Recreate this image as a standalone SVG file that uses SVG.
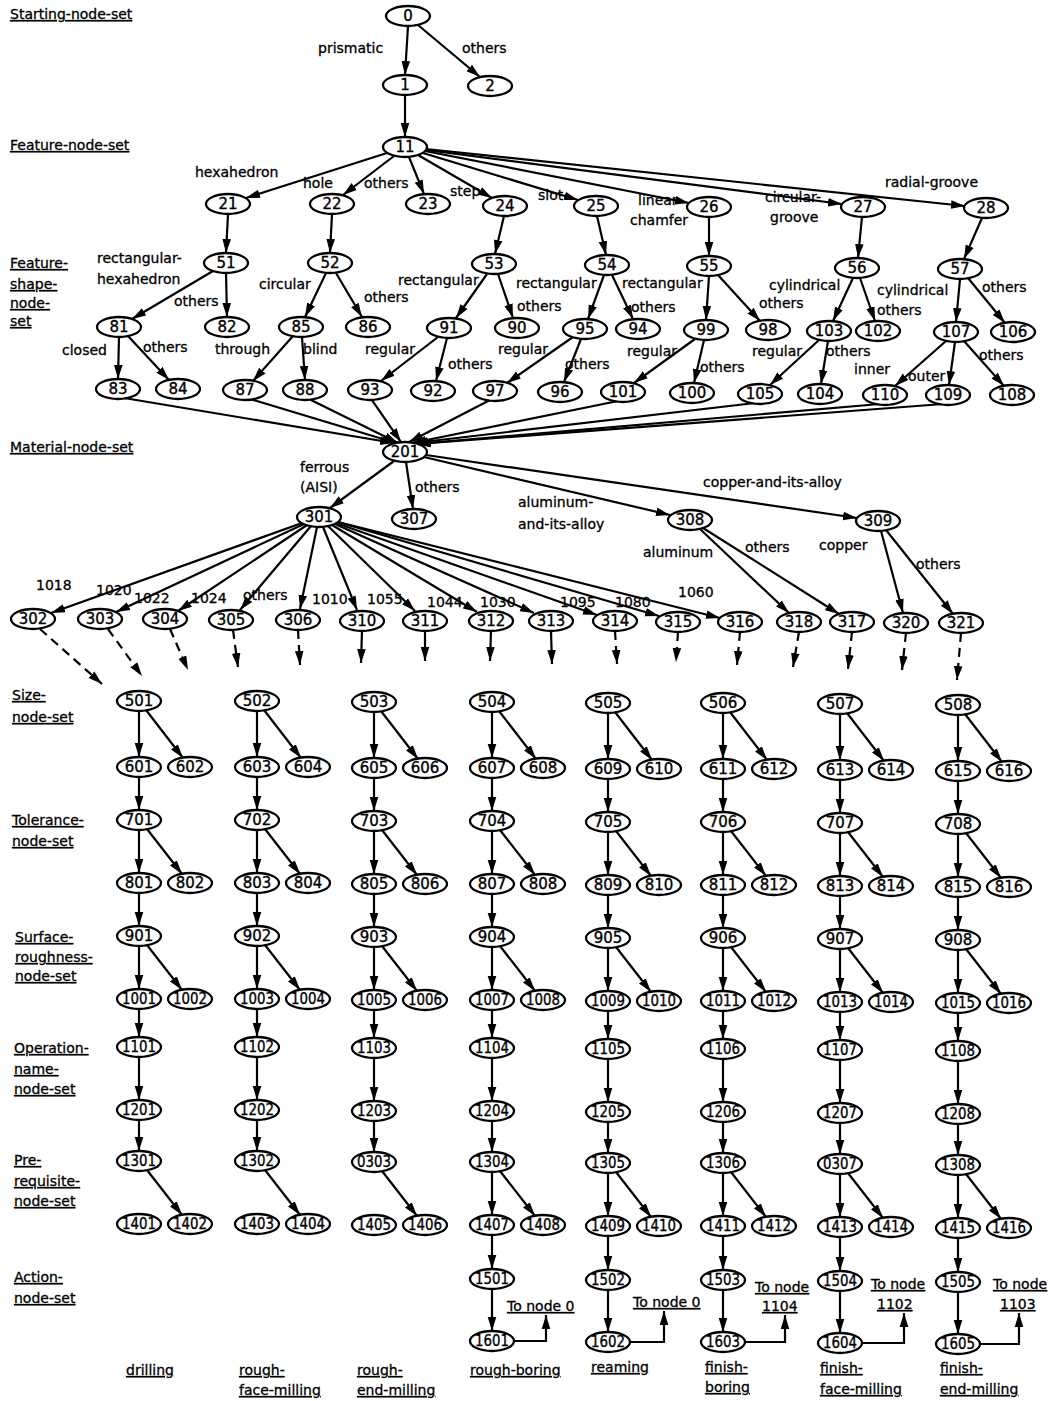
<svg xmlns="http://www.w3.org/2000/svg" width="1063" height="1401" viewBox="0 0 1063 1401">
<defs>
<marker id="ah" markerWidth="15" markerHeight="10" refX="14" refY="5" orient="auto" markerUnits="userSpaceOnUse">
<path d="M0,0.7 L14,5 L0,9.3 Z" fill="#000"/>
</marker>
<style>
.nd ellipse{fill:#fff;stroke:#000;stroke-width:2.3}
.nd text{font-family:"DejaVu Sans",sans-serif;font-size:15px;text-anchor:middle;dominant-baseline:central;fill:#000;stroke:#000;stroke-width:0.35px}
.e{stroke:#000;stroke-width:2.2;fill:none;marker-end:url(#ah)}
.d{stroke-dasharray:9 6}
.lb{font-family:"DejaVu Sans",sans-serif;font-size:14px;fill:#000;stroke:#000;stroke-width:0.3px}
.ul{text-decoration:underline}
</style>
</defs>
<rect width="1063" height="1401" fill="#fff"/>

<!-- level titles -->
<g id="titles" class="lb ul">
<text x="10" y="19">Starting-node-set</text>
<text x="10" y="150">Feature-node-set</text>
<text x="10" y="268">Feature-</text>
<text x="10" y="289">shape-</text>
<text x="10" y="308">node-</text>
<text x="10" y="326">set</text>
<text x="10" y="452">Material-node-set</text>
<text x="12" y="700">Size-</text>
<text x="12" y="722">node-set</text>
<text x="12" y="825">Tolerance-</text>
<text x="12" y="846">node-set</text>
<text x="15" y="942">Surface-</text>
<text x="15" y="962">roughness-</text>
<text x="15" y="981">node-set</text>
<text x="14" y="1053">Operation-</text>
<text x="14" y="1074">name-</text>
<text x="14" y="1094">node-set</text>
<text x="14" y="1165">Pre-</text>
<text x="14" y="1186">requisite-</text>
<text x="14" y="1206">node-set</text>
<text x="14" y="1282">Action-</text>
<text x="14" y="1303">node-set</text>
</g>

<!-- operation names under each column -->
<g id="operations" class="lb ul">
<text x="126" y="1375">drilling</text>
<text x="239" y="1375">rough-</text>
<text x="239" y="1395">face-milling</text>
<text x="357" y="1375">rough-</text>
<text x="357" y="1395">end-milling</text>
<text x="470" y="1375">rough-boring</text>
<text x="591" y="1372">reaming</text>
<text x="705" y="1372">finish-</text>
<text x="705" y="1392">boring</text>
<text x="820" y="1373">finish-</text>
<text x="820" y="1394">face-milling</text>
<text x="940" y="1373">finish-</text>
<text x="940" y="1394">end-milling</text>
</g>

<!-- return targets -->
<g id="returns" class="lb ul">
<text x="507" y="1311">To node 0</text>
<text x="633" y="1307">To node 0</text>
<text x="755" y="1292">To node</text>
<text x="762" y="1311">1104</text>
<text x="871" y="1289">To node</text>
<text x="877" y="1309">1102</text>
<text x="993" y="1289">To node</text>
<text x="1000" y="1309">1103</text>
</g>

<!-- edge labels -->
<g id="edge-labels" class="lb">
<text x="318" y="53">prismatic</text>
<text x="462" y="53">others</text>
<text x="195" y="177">hexahedron</text>
<text x="303" y="188">hole</text>
<text x="364" y="188">others</text>
<text x="450" y="196">step</text>
<text x="538" y="200">slot</text>
<text x="638" y="205">linear-</text>
<text x="630" y="225">chamfer</text>
<text x="765" y="202">circular-</text>
<text x="770" y="222">groove</text>
<text x="885" y="187">radial-groove</text>
<text x="97" y="263">rectangular-</text>
<text x="97" y="284">hexahedron</text>
<text x="174" y="306">others</text>
<text x="259" y="289">circular</text>
<text x="364" y="302">others</text>
<text x="398" y="285">rectangular</text>
<text x="517" y="311">others</text>
<text x="516" y="288">rectangular</text>
<text x="622" y="288">rectangular</text>
<text x="631" y="312">others</text>
<text x="769" y="290">cylindrical</text>
<text x="759" y="308">others</text>
<text x="877" y="295">cylindrical</text>
<text x="877" y="315">others</text>
<text x="982" y="292">others</text>
<text x="62" y="355">closed</text>
<text x="143" y="352">others</text>
<text x="215" y="354">through</text>
<text x="303" y="354">blind</text>
<text x="365" y="354">regular</text>
<text x="448" y="369">others</text>
<text x="498" y="354">regular</text>
<text x="565" y="369">others</text>
<text x="627" y="356">regular</text>
<text x="700" y="372">others</text>
<text x="752" y="356">regular</text>
<text x="826" y="356">others</text>
<text x="854" y="374">inner</text>
<text x="908" y="381">outer</text>
<text x="979" y="360">others</text>
<text x="300" y="472">ferrous</text>
<text x="300" y="492">(AISI)</text>
<text x="415" y="492">others</text>
<text x="518" y="507">aluminum-</text>
<text x="518" y="529">and-its-alloy</text>
<text x="703" y="487">copper-and-its-alloy</text>
<text x="643" y="557">aluminum</text>
<text x="745" y="552">others</text>
<text x="819" y="550">copper</text>
<text x="916" y="569">others</text>
<text x="36" y="590">1018</text>
<text x="96" y="595">1020</text>
<text x="134" y="603">1022</text>
<text x="191" y="603">1024</text>
<text x="243" y="600">others</text>
<text x="312" y="604">1010</text>
<text x="367" y="604">1055</text>
<text x="427" y="607">1044</text>
<text x="480" y="607">1030</text>
<text x="560" y="607">1095</text>
<text x="615" y="607">1080</text>
<text x="678" y="597">1060</text>
</g>

<!-- connectors -->
<g id="connectors">
<line class="e" x1="408" y1="26" x2="405" y2="75"/>
<line class="e" x1="418" y1="25" x2="480" y2="77"/>
<line class="e" x1="405" y1="95" x2="405" y2="137"/>
<line class="e" x1="387" y1="153" x2="246" y2="198"/>
<line class="e" x1="394" y1="156" x2="343" y2="195"/>
<line class="e" x1="409" y1="157" x2="424" y2="194"/>
<line class="e" x1="418" y1="155" x2="492" y2="198"/>
<line class="e" x1="423" y1="153" x2="578" y2="200"/>
<line class="e" x1="425" y1="151" x2="689" y2="203"/>
<line class="e" x1="426" y1="150" x2="842" y2="204"/>
<line class="e" x1="426" y1="149" x2="965" y2="206"/>
<line class="e" x1="228" y1="214" x2="226" y2="253"/>
<line class="e" x1="332" y1="214" x2="330" y2="253"/>
<line class="e" x1="504" y1="216" x2="495" y2="254"/>
<line class="e" x1="597" y1="216" x2="606" y2="255"/>
<line class="e" x1="709" y1="217" x2="709" y2="256"/>
<line class="e" x1="862" y1="217" x2="858" y2="258"/>
<line class="e" x1="982" y1="218" x2="964" y2="259"/>
<line class="e" x1="213" y1="271" x2="132" y2="319"/>
<line class="e" x1="226" y1="273" x2="227" y2="317"/>
<line class="e" x1="326" y1="273" x2="305" y2="317"/>
<line class="e" x1="336" y1="273" x2="362" y2="317"/>
<line class="e" x1="487" y1="274" x2="456" y2="318"/>
<line class="e" x1="498" y1="274" x2="513" y2="318"/>
<line class="e" x1="604" y1="275" x2="588" y2="319"/>
<line class="e" x1="612" y1="275" x2="633" y2="319"/>
<line class="e" x1="709" y1="276" x2="706" y2="320"/>
<line class="e" x1="718" y1="275" x2="760" y2="321"/>
<line class="e" x1="853" y1="278" x2="833" y2="321"/>
<line class="e" x1="860" y1="278" x2="875" y2="321"/>
<line class="e" x1="960" y1="279" x2="956" y2="322"/>
<line class="e" x1="968" y1="278" x2="1005" y2="323"/>
<line class="e" x1="119" y1="337" x2="118" y2="379"/>
<line class="e" x1="128" y1="336" x2="169" y2="380"/>
<line class="e" x1="293" y1="336" x2="253" y2="381"/>
<line class="e" x1="302" y1="337" x2="305" y2="380"/>
<line class="e" x1="438" y1="337" x2="381" y2="381"/>
<line class="e" x1="447" y1="338" x2="436" y2="381"/>
<line class="e" x1="573" y1="337" x2="507" y2="383"/>
<line class="e" x1="581" y1="339" x2="564" y2="382"/>
<line class="e" x1="695" y1="339" x2="634" y2="383"/>
<line class="e" x1="704" y1="340" x2="694" y2="383"/>
<line class="e" x1="819" y1="340" x2="770" y2="385"/>
<line class="e" x1="828" y1="341" x2="821" y2="384"/>
<line class="e" x1="946" y1="341" x2="895" y2="386"/>
<line class="e" x1="955" y1="342" x2="949" y2="385"/>
<line class="e" x1="964" y1="341" x2="1004" y2="386"/>
<!-- shape leaves into the material root -->
<line class="e" x1="124" y1="398" x2="394" y2="443"/>
<line class="e" x1="250" y1="399" x2="396" y2="443"/>
<line class="e" x1="309" y1="399" x2="398" y2="443"/>
<line class="e" x1="372" y1="400" x2="401" y2="442"/>
<line class="e" x1="490" y1="400" x2="409" y2="442"/>
<line class="e" x1="618" y1="401" x2="412" y2="443"/>
<line class="e" x1="755" y1="403" x2="414" y2="443"/>
<line class="e" x1="880" y1="404" x2="416" y2="444"/>
<line class="e" x1="943" y1="404" x2="417" y2="444"/>
<!-- material -->
<line class="e" x1="394" y1="461" x2="330" y2="508"/>
<line class="e" x1="406" y1="462" x2="413" y2="509"/>
<line class="e" x1="424" y1="457" x2="670" y2="515"/>
<line class="e" x1="426" y1="455" x2="857" y2="518"/>
<line class="e" x1="302" y1="523" x2="51" y2="613"/>
<line class="e" x1="304" y1="524" x2="116" y2="612"/>
<line class="e" x1="307" y1="525" x2="178" y2="611"/>
<line class="e" x1="311" y1="526" x2="240" y2="610"/>
<line class="e" x1="317" y1="527" x2="300" y2="609"/>
<line class="e" x1="323" y1="527" x2="357" y2="610"/>
<line class="e" x1="328" y1="526" x2="415" y2="611"/>
<line class="e" x1="332" y1="525" x2="477" y2="612"/>
<line class="e" x1="335" y1="524" x2="534" y2="613"/>
<line class="e" x1="336" y1="523" x2="597" y2="615"/>
<line class="e" x1="338" y1="522" x2="659" y2="616"/>
<line class="e" x1="338" y1="522" x2="720" y2="618"/>
<line class="e" x1="700" y1="529" x2="789" y2="613"/>
<line class="e" x1="703" y1="528" x2="839" y2="614"/>
<line class="e" x1="881" y1="531" x2="903" y2="613"/>
<line class="e" x1="886" y1="530" x2="953" y2="614"/>
<!-- continuation stubs -->
<line class="e d" x1="40" y1="629" x2="102" y2="684"/>
<line class="e d" x1="108" y1="629" x2="142" y2="676"/>
<line class="e d" x1="170" y1="629" x2="188" y2="670"/>
<line class="e d" x1="233" y1="630" x2="238" y2="667"/>
<line class="e d" x1="298" y1="630" x2="300" y2="665"/>
<line class="e" x1="362" y1="631" x2="361" y2="663"/>
<line class="e" x1="425" y1="631" x2="425" y2="661"/>
<line class="e" x1="491" y1="631" x2="490" y2="661"/>
<line class="e" x1="551" y1="631" x2="552" y2="664"/>
<line class="e d" x1="615" y1="631" x2="617" y2="664"/>
<line class="e d" x1="678" y1="632" x2="676" y2="662"/>
<line class="e d" x1="740" y1="632" x2="737" y2="665"/>
<line class="e d" x1="799" y1="632" x2="793" y2="667"/>
<line class="e d" x1="852" y1="632" x2="848" y2="669"/>
<line class="e d" x1="906" y1="633" x2="902" y2="670"/>
<line class="e d" x1="961" y1="633" x2="957" y2="680"/>
<!-- column 1 -->
<line class="e" x1="139" y1="711" x2="139" y2="757"/>
<line class="e" x1="146" y1="710" x2="183" y2="758"/>
<line class="e" x1="139" y1="777" x2="139" y2="810"/>
<line class="e" x1="139" y1="830" x2="139" y2="873"/>
<line class="e" x1="147" y1="829" x2="182" y2="874"/>
<line class="e" x1="139" y1="893" x2="139" y2="926"/>
<line class="e" x1="139" y1="946" x2="139" y2="989"/>
<line class="e" x1="147" y1="945" x2="182" y2="990"/>
<line class="e" x1="139" y1="1009" x2="139" y2="1037"/>
<line class="e" x1="139" y1="1057" x2="139" y2="1100"/>
<line class="e" x1="139" y1="1120" x2="139" y2="1151"/>
<line class="e" x1="147" y1="1170" x2="182" y2="1215"/>
<!-- column 2 -->
<line class="e" x1="257" y1="711" x2="257" y2="757"/>
<line class="e" x1="264" y1="710" x2="301" y2="758"/>
<line class="e" x1="257" y1="777" x2="257" y2="810"/>
<line class="e" x1="257" y1="830" x2="257" y2="873"/>
<line class="e" x1="265" y1="829" x2="300" y2="874"/>
<line class="e" x1="257" y1="893" x2="257" y2="926"/>
<line class="e" x1="257" y1="946" x2="257" y2="989"/>
<line class="e" x1="265" y1="945" x2="300" y2="990"/>
<line class="e" x1="257" y1="1009" x2="257" y2="1037"/>
<line class="e" x1="257" y1="1057" x2="257" y2="1100"/>
<line class="e" x1="257" y1="1120" x2="257" y2="1151"/>
<line class="e" x1="265" y1="1170" x2="300" y2="1215"/>
<!-- column 3 -->
<line class="e" x1="374" y1="712" x2="374" y2="758"/>
<line class="e" x1="381" y1="711" x2="418" y2="759"/>
<line class="e" x1="374" y1="778" x2="374" y2="811"/>
<line class="e" x1="374" y1="831" x2="374" y2="874"/>
<line class="e" x1="382" y1="830" x2="417" y2="875"/>
<line class="e" x1="374" y1="894" x2="374" y2="927"/>
<line class="e" x1="374" y1="947" x2="374" y2="990"/>
<line class="e" x1="382" y1="946" x2="417" y2="991"/>
<line class="e" x1="374" y1="1010" x2="374" y2="1038"/>
<line class="e" x1="374" y1="1058" x2="374" y2="1101"/>
<line class="e" x1="374" y1="1121" x2="374" y2="1152"/>
<line class="e" x1="382" y1="1171" x2="417" y2="1216"/>
<!-- column 4 -->
<line class="e" x1="492" y1="712" x2="492" y2="758"/>
<line class="e" x1="499" y1="711" x2="536" y2="759"/>
<line class="e" x1="492" y1="778" x2="492" y2="811"/>
<line class="e" x1="492" y1="831" x2="492" y2="874"/>
<line class="e" x1="500" y1="830" x2="535" y2="875"/>
<line class="e" x1="492" y1="894" x2="492" y2="927"/>
<line class="e" x1="492" y1="947" x2="492" y2="990"/>
<line class="e" x1="500" y1="946" x2="535" y2="991"/>
<line class="e" x1="492" y1="1010" x2="492" y2="1038"/>
<line class="e" x1="492" y1="1058" x2="492" y2="1101"/>
<line class="e" x1="492" y1="1121" x2="492" y2="1152"/>
<line class="e" x1="492" y1="1172" x2="492" y2="1215"/>
<line class="e" x1="500" y1="1171" x2="535" y2="1216"/>
<line class="e" x1="492" y1="1235" x2="492" y2="1269"/>
<line class="e" x1="492" y1="1289" x2="492" y2="1331"/>
<path class="e" d="M514,1341H546V1315"/>
<!-- column 5 -->
<line class="e" x1="608" y1="713" x2="608" y2="759"/>
<line class="e" x1="615" y1="712" x2="652" y2="760"/>
<line class="e" x1="608" y1="779" x2="608" y2="812"/>
<line class="e" x1="608" y1="832" x2="608" y2="875"/>
<line class="e" x1="616" y1="831" x2="651" y2="876"/>
<line class="e" x1="608" y1="895" x2="608" y2="928"/>
<line class="e" x1="608" y1="948" x2="608" y2="991"/>
<line class="e" x1="616" y1="947" x2="651" y2="992"/>
<line class="e" x1="608" y1="1011" x2="608" y2="1039"/>
<line class="e" x1="608" y1="1059" x2="608" y2="1102"/>
<line class="e" x1="608" y1="1122" x2="608" y2="1153"/>
<line class="e" x1="608" y1="1173" x2="608" y2="1216"/>
<line class="e" x1="616" y1="1172" x2="651" y2="1217"/>
<line class="e" x1="608" y1="1236" x2="608" y2="1270"/>
<line class="e" x1="608" y1="1290" x2="608" y2="1332"/>
<path class="e" d="M630,1342H664V1311"/>
<!-- column 6 -->
<line class="e" x1="723" y1="713" x2="723" y2="759"/>
<line class="e" x1="730" y1="712" x2="767" y2="760"/>
<line class="e" x1="723" y1="779" x2="723" y2="812"/>
<line class="e" x1="723" y1="832" x2="723" y2="875"/>
<line class="e" x1="731" y1="831" x2="766" y2="876"/>
<line class="e" x1="723" y1="895" x2="723" y2="928"/>
<line class="e" x1="723" y1="948" x2="723" y2="991"/>
<line class="e" x1="731" y1="947" x2="766" y2="992"/>
<line class="e" x1="723" y1="1011" x2="723" y2="1039"/>
<line class="e" x1="723" y1="1059" x2="723" y2="1102"/>
<line class="e" x1="723" y1="1122" x2="723" y2="1153"/>
<line class="e" x1="723" y1="1173" x2="723" y2="1216"/>
<line class="e" x1="731" y1="1172" x2="766" y2="1217"/>
<line class="e" x1="723" y1="1236" x2="723" y2="1270"/>
<line class="e" x1="723" y1="1290" x2="723" y2="1332"/>
<path class="e" d="M745,1342H785V1315"/>
<!-- column 7 -->
<line class="e" x1="840" y1="714" x2="840" y2="760"/>
<line class="e" x1="847" y1="713" x2="884" y2="761"/>
<line class="e" x1="840" y1="780" x2="840" y2="813"/>
<line class="e" x1="840" y1="833" x2="840" y2="876"/>
<line class="e" x1="848" y1="832" x2="883" y2="877"/>
<line class="e" x1="840" y1="896" x2="840" y2="929"/>
<line class="e" x1="840" y1="949" x2="840" y2="992"/>
<line class="e" x1="848" y1="948" x2="883" y2="993"/>
<line class="e" x1="840" y1="1012" x2="840" y2="1040"/>
<line class="e" x1="840" y1="1060" x2="840" y2="1103"/>
<line class="e" x1="840" y1="1123" x2="840" y2="1154"/>
<line class="e" x1="840" y1="1174" x2="840" y2="1217"/>
<line class="e" x1="848" y1="1173" x2="883" y2="1218"/>
<line class="e" x1="840" y1="1237" x2="840" y2="1271"/>
<line class="e" x1="840" y1="1291" x2="840" y2="1333"/>
<path class="e" d="M862,1343H904V1313"/>
<!-- column 8 -->
<line class="e" x1="958" y1="715" x2="958" y2="761"/>
<line class="e" x1="965" y1="714" x2="1002" y2="762"/>
<line class="e" x1="958" y1="781" x2="958" y2="814"/>
<line class="e" x1="958" y1="834" x2="958" y2="877"/>
<line class="e" x1="966" y1="833" x2="1001" y2="878"/>
<line class="e" x1="958" y1="897" x2="958" y2="930"/>
<line class="e" x1="958" y1="950" x2="958" y2="993"/>
<line class="e" x1="966" y1="949" x2="1001" y2="994"/>
<line class="e" x1="958" y1="1013" x2="958" y2="1041"/>
<line class="e" x1="958" y1="1061" x2="958" y2="1104"/>
<line class="e" x1="958" y1="1124" x2="958" y2="1155"/>
<line class="e" x1="958" y1="1175" x2="958" y2="1218"/>
<line class="e" x1="966" y1="1174" x2="1001" y2="1219"/>
<line class="e" x1="958" y1="1238" x2="958" y2="1272"/>
<line class="e" x1="958" y1="1292" x2="958" y2="1334"/>
<path class="e" d="M980,1344H1019V1313"/>
</g>

<!-- nodes -->
<g id="n0" class="nd"><ellipse cx="408" cy="16" rx="22" ry="10"/><text x="408" y="16">0</text></g>
<g id="n1" class="nd"><ellipse cx="405" cy="85" rx="22" ry="10"/><text x="405" y="85">1</text></g>
<g id="n2" class="nd"><ellipse cx="490" cy="86" rx="22" ry="10"/><text x="490" y="86">2</text></g>
<g id="n11" class="nd"><ellipse cx="405" cy="147" rx="22" ry="10"/><text x="405" y="147">11</text></g>
<g id="n21" class="nd"><ellipse cx="228" cy="204" rx="22" ry="10"/><text x="228" y="204">21</text></g>
<g id="n22" class="nd"><ellipse cx="332" cy="204" rx="22" ry="10"/><text x="332" y="204">22</text></g>
<g id="n23" class="nd"><ellipse cx="428" cy="204" rx="22" ry="10"/><text x="428" y="204">23</text></g>
<g id="n24" class="nd"><ellipse cx="505" cy="206" rx="22" ry="10"/><text x="505" y="206">24</text></g>
<g id="n25" class="nd"><ellipse cx="596" cy="206" rx="22" ry="10"/><text x="596" y="206">25</text></g>
<g id="n26" class="nd"><ellipse cx="709" cy="207" rx="22" ry="10"/><text x="709" y="207">26</text></g>
<g id="n27" class="nd"><ellipse cx="863" cy="207" rx="22" ry="10"/><text x="863" y="207">27</text></g>
<g id="n28" class="nd"><ellipse cx="986" cy="208" rx="22" ry="10"/><text x="986" y="208">28</text></g>
<g id="n51" class="nd"><ellipse cx="226" cy="263" rx="22" ry="10"/><text x="226" y="263">51</text></g>
<g id="n52" class="nd"><ellipse cx="330" cy="263" rx="22" ry="10"/><text x="330" y="263">52</text></g>
<g id="n53" class="nd"><ellipse cx="494" cy="264" rx="22" ry="10"/><text x="494" y="264">53</text></g>
<g id="n54" class="nd"><ellipse cx="607" cy="265" rx="22" ry="10"/><text x="607" y="265">54</text></g>
<g id="n55" class="nd"><ellipse cx="709" cy="266" rx="22" ry="10"/><text x="709" y="266">55</text></g>
<g id="n56" class="nd"><ellipse cx="857" cy="268" rx="22" ry="10"/><text x="857" y="268">56</text></g>
<g id="n57" class="nd"><ellipse cx="960" cy="269" rx="22" ry="10"/><text x="960" y="269">57</text></g>
<g id="n81" class="nd"><ellipse cx="119" cy="327" rx="22" ry="10"/><text x="119" y="327">81</text></g>
<g id="n82" class="nd"><ellipse cx="227" cy="327" rx="22" ry="10"/><text x="227" y="327">82</text></g>
<g id="n85" class="nd"><ellipse cx="301" cy="327" rx="22" ry="10"/><text x="301" y="327">85</text></g>
<g id="n86" class="nd"><ellipse cx="368" cy="327" rx="22" ry="10"/><text x="368" y="327">86</text></g>
<g id="n91" class="nd"><ellipse cx="449" cy="328" rx="22" ry="10"/><text x="449" y="328">91</text></g>
<g id="n90" class="nd"><ellipse cx="517" cy="328" rx="22" ry="10"/><text x="517" y="328">90</text></g>
<g id="n95" class="nd"><ellipse cx="585" cy="329" rx="22" ry="10"/><text x="585" y="329">95</text></g>
<g id="n94" class="nd"><ellipse cx="638" cy="329" rx="22" ry="10"/><text x="638" y="329">94</text></g>
<g id="n99" class="nd"><ellipse cx="706" cy="330" rx="22" ry="10"/><text x="706" y="330">99</text></g>
<g id="n98" class="nd"><ellipse cx="768" cy="330" rx="22" ry="10"/><text x="768" y="330">98</text></g>
<g id="n103" class="nd"><ellipse cx="829" cy="331" rx="22" ry="10"/><text x="829" y="331">103</text></g>
<g id="n102" class="nd"><ellipse cx="878" cy="331" rx="22" ry="10"/><text x="878" y="331">102</text></g>
<g id="n107" class="nd"><ellipse cx="956" cy="332" rx="22" ry="10"/><text x="956" y="332">107</text></g>
<g id="n106" class="nd"><ellipse cx="1013" cy="332" rx="22" ry="10"/><text x="1013" y="332">106</text></g>
<g id="n83" class="nd"><ellipse cx="118" cy="389" rx="22" ry="10"/><text x="118" y="389">83</text></g>
<g id="n84" class="nd"><ellipse cx="178" cy="389" rx="22" ry="10"/><text x="178" y="389">84</text></g>
<g id="n87" class="nd"><ellipse cx="245" cy="390" rx="22" ry="10"/><text x="245" y="390">87</text></g>
<g id="n88" class="nd"><ellipse cx="305" cy="390" rx="22" ry="10"/><text x="305" y="390">88</text></g>
<g id="n93" class="nd"><ellipse cx="370" cy="390" rx="22" ry="10"/><text x="370" y="390">93</text></g>
<g id="n92" class="nd"><ellipse cx="433" cy="391" rx="22" ry="10"/><text x="433" y="391">92</text></g>
<g id="n97" class="nd"><ellipse cx="495" cy="391" rx="22" ry="10"/><text x="495" y="391">97</text></g>
<g id="n96" class="nd"><ellipse cx="560" cy="392" rx="22" ry="10"/><text x="560" y="392">96</text></g>
<g id="n101" class="nd"><ellipse cx="623" cy="392" rx="22" ry="10"/><text x="623" y="392">101</text></g>
<g id="n100" class="nd"><ellipse cx="692" cy="393" rx="22" ry="10"/><text x="692" y="393">100</text></g>
<g id="n105" class="nd"><ellipse cx="760" cy="394" rx="22" ry="10"/><text x="760" y="394">105</text></g>
<g id="n104" class="nd"><ellipse cx="820" cy="394" rx="22" ry="10"/><text x="820" y="394">104</text></g>
<g id="n110" class="nd"><ellipse cx="885" cy="395" rx="22" ry="10"/><text x="885" y="395">110</text></g>
<g id="n109" class="nd"><ellipse cx="948" cy="395" rx="22" ry="10"/><text x="948" y="395">109</text></g>
<g id="n108" class="nd"><ellipse cx="1012" cy="395" rx="22" ry="10"/><text x="1012" y="395">108</text></g>
<g id="n201" class="nd"><ellipse cx="405" cy="452" rx="22" ry="10"/><text x="405" y="452">201</text></g>
<g id="n301" class="nd"><ellipse cx="319" cy="517" rx="22" ry="10"/><text x="319" y="517">301</text></g>
<g id="n307" class="nd"><ellipse cx="414" cy="519" rx="22" ry="10"/><text x="414" y="519">307</text></g>
<g id="n308" class="nd"><ellipse cx="690" cy="520" rx="22" ry="10"/><text x="690" y="520">308</text></g>
<g id="n309" class="nd"><ellipse cx="878" cy="521" rx="22" ry="10"/><text x="878" y="521">309</text></g>
<g id="n302" class="nd"><ellipse cx="33" cy="619" rx="22" ry="10"/><text x="33" y="619">302</text></g>
<g id="n303" class="nd"><ellipse cx="100" cy="619" rx="22" ry="10"/><text x="100" y="619">303</text></g>
<g id="n304" class="nd"><ellipse cx="165" cy="619" rx="22" ry="10"/><text x="165" y="619">304</text></g>
<g id="n305" class="nd"><ellipse cx="231" cy="620" rx="22" ry="10"/><text x="231" y="620">305</text></g>
<g id="n306" class="nd"><ellipse cx="298" cy="620" rx="22" ry="10"/><text x="298" y="620">306</text></g>
<g id="n310" class="nd"><ellipse cx="362" cy="621" rx="22" ry="10"/><text x="362" y="621">310</text></g>
<g id="n311" class="nd"><ellipse cx="425" cy="621" rx="22" ry="10"/><text x="425" y="621">311</text></g>
<g id="n312" class="nd"><ellipse cx="491" cy="621" rx="22" ry="10"/><text x="491" y="621">312</text></g>
<g id="n313" class="nd"><ellipse cx="551" cy="621" rx="22" ry="10"/><text x="551" y="621">313</text></g>
<g id="n314" class="nd"><ellipse cx="615" cy="621" rx="22" ry="10"/><text x="615" y="621">314</text></g>
<g id="n315" class="nd"><ellipse cx="678" cy="622" rx="22" ry="10"/><text x="678" y="622">315</text></g>
<g id="n316" class="nd"><ellipse cx="740" cy="622" rx="22" ry="10"/><text x="740" y="622">316</text></g>
<g id="n318" class="nd"><ellipse cx="799" cy="622" rx="22" ry="10"/><text x="799" y="622">318</text></g>
<g id="n317" class="nd"><ellipse cx="852" cy="622" rx="22" ry="10"/><text x="852" y="622">317</text></g>
<g id="n320" class="nd"><ellipse cx="906" cy="623" rx="22" ry="10"/><text x="906" y="623">320</text></g>
<g id="n321" class="nd"><ellipse cx="961" cy="623" rx="22" ry="10"/><text x="961" y="623">321</text></g>

<!-- column 1: drilling -->
<g id="n501" class="nd"><ellipse cx="139" cy="701" rx="22" ry="10"/><text x="139" y="701">501</text></g>
<g id="n601" class="nd"><ellipse cx="139" cy="767" rx="22" ry="10"/><text x="139" y="767">601</text></g>
<g id="n602" class="nd"><ellipse cx="190" cy="767" rx="22" ry="10"/><text x="190" y="767">602</text></g>
<g id="n701" class="nd"><ellipse cx="139" cy="820" rx="22" ry="10"/><text x="139" y="820">701</text></g>
<g id="n801" class="nd"><ellipse cx="139" cy="883" rx="22" ry="10"/><text x="139" y="883">801</text></g>
<g id="n802" class="nd"><ellipse cx="190" cy="883" rx="22" ry="10"/><text x="190" y="883">802</text></g>
<g id="n901" class="nd"><ellipse cx="139" cy="936" rx="22" ry="10"/><text x="139" y="936">901</text></g>
<g id="n1001" class="nd"><ellipse cx="139" cy="999" rx="22" ry="10"/><text x="139" y="999" textLength="34" lengthAdjust="spacingAndGlyphs">1001</text></g>
<g id="n1002" class="nd"><ellipse cx="190" cy="999" rx="22" ry="10"/><text x="190" y="999" textLength="34" lengthAdjust="spacingAndGlyphs">1002</text></g>
<g id="n1101" class="nd"><ellipse cx="139" cy="1047" rx="22" ry="10"/><text x="139" y="1047" textLength="34" lengthAdjust="spacingAndGlyphs">1101</text></g>
<g id="n1201" class="nd"><ellipse cx="139" cy="1110" rx="22" ry="10"/><text x="139" y="1110" textLength="34" lengthAdjust="spacingAndGlyphs">1201</text></g>
<g id="n1301" class="nd"><ellipse cx="139" cy="1161" rx="22" ry="10"/><text x="139" y="1161" textLength="34" lengthAdjust="spacingAndGlyphs">1301</text></g>
<g id="n1401" class="nd"><ellipse cx="139" cy="1224" rx="22" ry="10"/><text x="139" y="1224" textLength="34" lengthAdjust="spacingAndGlyphs">1401</text></g>
<g id="n1402" class="nd"><ellipse cx="190" cy="1224" rx="22" ry="10"/><text x="190" y="1224" textLength="34" lengthAdjust="spacingAndGlyphs">1402</text></g>

<!-- column 2: rough face milling -->
<g id="n502" class="nd"><ellipse cx="257" cy="701" rx="22" ry="10"/><text x="257" y="701">502</text></g>
<g id="n603" class="nd"><ellipse cx="257" cy="767" rx="22" ry="10"/><text x="257" y="767">603</text></g>
<g id="n604" class="nd"><ellipse cx="308" cy="767" rx="22" ry="10"/><text x="308" y="767">604</text></g>
<g id="n702" class="nd"><ellipse cx="257" cy="820" rx="22" ry="10"/><text x="257" y="820">702</text></g>
<g id="n803" class="nd"><ellipse cx="257" cy="883" rx="22" ry="10"/><text x="257" y="883">803</text></g>
<g id="n804" class="nd"><ellipse cx="308" cy="883" rx="22" ry="10"/><text x="308" y="883">804</text></g>
<g id="n902" class="nd"><ellipse cx="257" cy="936" rx="22" ry="10"/><text x="257" y="936">902</text></g>
<g id="n1003" class="nd"><ellipse cx="257" cy="999" rx="22" ry="10"/><text x="257" y="999" textLength="34" lengthAdjust="spacingAndGlyphs">1003</text></g>
<g id="n1004" class="nd"><ellipse cx="308" cy="999" rx="22" ry="10"/><text x="308" y="999" textLength="34" lengthAdjust="spacingAndGlyphs">1004</text></g>
<g id="n1102" class="nd"><ellipse cx="257" cy="1047" rx="22" ry="10"/><text x="257" y="1047" textLength="34" lengthAdjust="spacingAndGlyphs">1102</text></g>
<g id="n1202" class="nd"><ellipse cx="257" cy="1110" rx="22" ry="10"/><text x="257" y="1110" textLength="34" lengthAdjust="spacingAndGlyphs">1202</text></g>
<g id="n1302" class="nd"><ellipse cx="257" cy="1161" rx="22" ry="10"/><text x="257" y="1161" textLength="34" lengthAdjust="spacingAndGlyphs">1302</text></g>
<g id="n1403" class="nd"><ellipse cx="257" cy="1224" rx="22" ry="10"/><text x="257" y="1224" textLength="34" lengthAdjust="spacingAndGlyphs">1403</text></g>
<g id="n1404" class="nd"><ellipse cx="308" cy="1224" rx="22" ry="10"/><text x="308" y="1224" textLength="34" lengthAdjust="spacingAndGlyphs">1404</text></g>

<!-- column 3: rough end milling -->
<g id="n503" class="nd"><ellipse cx="374" cy="702" rx="22" ry="10"/><text x="374" y="702">503</text></g>
<g id="n605" class="nd"><ellipse cx="374" cy="768" rx="22" ry="10"/><text x="374" y="768">605</text></g>
<g id="n606" class="nd"><ellipse cx="425" cy="768" rx="22" ry="10"/><text x="425" y="768">606</text></g>
<g id="n703" class="nd"><ellipse cx="374" cy="821" rx="22" ry="10"/><text x="374" y="821">703</text></g>
<g id="n805" class="nd"><ellipse cx="374" cy="884" rx="22" ry="10"/><text x="374" y="884">805</text></g>
<g id="n806" class="nd"><ellipse cx="425" cy="884" rx="22" ry="10"/><text x="425" y="884">806</text></g>
<g id="n903" class="nd"><ellipse cx="374" cy="937" rx="22" ry="10"/><text x="374" y="937">903</text></g>
<g id="n1005" class="nd"><ellipse cx="374" cy="1000" rx="22" ry="10"/><text x="374" y="1000" textLength="34" lengthAdjust="spacingAndGlyphs">1005</text></g>
<g id="n1006" class="nd"><ellipse cx="425" cy="1000" rx="22" ry="10"/><text x="425" y="1000" textLength="34" lengthAdjust="spacingAndGlyphs">1006</text></g>
<g id="n1103" class="nd"><ellipse cx="374" cy="1048" rx="22" ry="10"/><text x="374" y="1048" textLength="34" lengthAdjust="spacingAndGlyphs">1103</text></g>
<g id="n1203" class="nd"><ellipse cx="374" cy="1111" rx="22" ry="10"/><text x="374" y="1111" textLength="34" lengthAdjust="spacingAndGlyphs">1203</text></g>
<g id="n1303" class="nd"><ellipse cx="374" cy="1162" rx="22" ry="10"/><text x="374" y="1162" textLength="34" lengthAdjust="spacingAndGlyphs">0303</text></g>
<g id="n1405" class="nd"><ellipse cx="374" cy="1225" rx="22" ry="10"/><text x="374" y="1225" textLength="34" lengthAdjust="spacingAndGlyphs">1405</text></g>
<g id="n1406" class="nd"><ellipse cx="425" cy="1225" rx="22" ry="10"/><text x="425" y="1225" textLength="34" lengthAdjust="spacingAndGlyphs">1406</text></g>

<!-- column 4: rough boring -->
<g id="n504" class="nd"><ellipse cx="492" cy="702" rx="22" ry="10"/><text x="492" y="702">504</text></g>
<g id="n607" class="nd"><ellipse cx="492" cy="768" rx="22" ry="10"/><text x="492" y="768">607</text></g>
<g id="n608" class="nd"><ellipse cx="543" cy="768" rx="22" ry="10"/><text x="543" y="768">608</text></g>
<g id="n704" class="nd"><ellipse cx="492" cy="821" rx="22" ry="10"/><text x="492" y="821">704</text></g>
<g id="n807" class="nd"><ellipse cx="492" cy="884" rx="22" ry="10"/><text x="492" y="884">807</text></g>
<g id="n808" class="nd"><ellipse cx="543" cy="884" rx="22" ry="10"/><text x="543" y="884">808</text></g>
<g id="n904" class="nd"><ellipse cx="492" cy="937" rx="22" ry="10"/><text x="492" y="937">904</text></g>
<g id="n1007" class="nd"><ellipse cx="492" cy="1000" rx="22" ry="10"/><text x="492" y="1000" textLength="34" lengthAdjust="spacingAndGlyphs">1007</text></g>
<g id="n1008" class="nd"><ellipse cx="543" cy="1000" rx="22" ry="10"/><text x="543" y="1000" textLength="34" lengthAdjust="spacingAndGlyphs">1008</text></g>
<g id="n1104" class="nd"><ellipse cx="492" cy="1048" rx="22" ry="10"/><text x="492" y="1048" textLength="34" lengthAdjust="spacingAndGlyphs">1104</text></g>
<g id="n1204" class="nd"><ellipse cx="492" cy="1111" rx="22" ry="10"/><text x="492" y="1111" textLength="34" lengthAdjust="spacingAndGlyphs">1204</text></g>
<g id="n1304" class="nd"><ellipse cx="492" cy="1162" rx="22" ry="10"/><text x="492" y="1162" textLength="34" lengthAdjust="spacingAndGlyphs">1304</text></g>
<g id="n1407" class="nd"><ellipse cx="492" cy="1225" rx="22" ry="10"/><text x="492" y="1225" textLength="34" lengthAdjust="spacingAndGlyphs">1407</text></g>
<g id="n1408" class="nd"><ellipse cx="543" cy="1225" rx="22" ry="10"/><text x="543" y="1225" textLength="34" lengthAdjust="spacingAndGlyphs">1408</text></g>
<g id="n1501" class="nd"><ellipse cx="492" cy="1279" rx="22" ry="10"/><text x="492" y="1279" textLength="34" lengthAdjust="spacingAndGlyphs">1501</text></g>
<g id="n1601" class="nd"><ellipse cx="492" cy="1341" rx="22" ry="10"/><text x="492" y="1341" textLength="34" lengthAdjust="spacingAndGlyphs">1601</text></g>

<!-- column 5: reaming -->
<g id="n505" class="nd"><ellipse cx="608" cy="703" rx="22" ry="10"/><text x="608" y="703">505</text></g>
<g id="n609" class="nd"><ellipse cx="608" cy="769" rx="22" ry="10"/><text x="608" y="769">609</text></g>
<g id="n610" class="nd"><ellipse cx="659" cy="769" rx="22" ry="10"/><text x="659" y="769">610</text></g>
<g id="n705" class="nd"><ellipse cx="608" cy="822" rx="22" ry="10"/><text x="608" y="822">705</text></g>
<g id="n809" class="nd"><ellipse cx="608" cy="885" rx="22" ry="10"/><text x="608" y="885">809</text></g>
<g id="n810" class="nd"><ellipse cx="659" cy="885" rx="22" ry="10"/><text x="659" y="885">810</text></g>
<g id="n905" class="nd"><ellipse cx="608" cy="938" rx="22" ry="10"/><text x="608" y="938">905</text></g>
<g id="n1009" class="nd"><ellipse cx="608" cy="1001" rx="22" ry="10"/><text x="608" y="1001" textLength="34" lengthAdjust="spacingAndGlyphs">1009</text></g>
<g id="n1010" class="nd"><ellipse cx="659" cy="1001" rx="22" ry="10"/><text x="659" y="1001" textLength="34" lengthAdjust="spacingAndGlyphs">1010</text></g>
<g id="n1105" class="nd"><ellipse cx="608" cy="1049" rx="22" ry="10"/><text x="608" y="1049" textLength="34" lengthAdjust="spacingAndGlyphs">1105</text></g>
<g id="n1205" class="nd"><ellipse cx="608" cy="1112" rx="22" ry="10"/><text x="608" y="1112" textLength="34" lengthAdjust="spacingAndGlyphs">1205</text></g>
<g id="n1305" class="nd"><ellipse cx="608" cy="1163" rx="22" ry="10"/><text x="608" y="1163" textLength="34" lengthAdjust="spacingAndGlyphs">1305</text></g>
<g id="n1409" class="nd"><ellipse cx="608" cy="1226" rx="22" ry="10"/><text x="608" y="1226" textLength="34" lengthAdjust="spacingAndGlyphs">1409</text></g>
<g id="n1410" class="nd"><ellipse cx="659" cy="1226" rx="22" ry="10"/><text x="659" y="1226" textLength="34" lengthAdjust="spacingAndGlyphs">1410</text></g>
<g id="n1502" class="nd"><ellipse cx="608" cy="1280" rx="22" ry="10"/><text x="608" y="1280" textLength="34" lengthAdjust="spacingAndGlyphs">1502</text></g>
<g id="n1602" class="nd"><ellipse cx="608" cy="1342" rx="22" ry="10"/><text x="608" y="1342" textLength="34" lengthAdjust="spacingAndGlyphs">1602</text></g>

<!-- column 6: finish boring -->
<g id="n506" class="nd"><ellipse cx="723" cy="703" rx="22" ry="10"/><text x="723" y="703">506</text></g>
<g id="n611" class="nd"><ellipse cx="723" cy="769" rx="22" ry="10"/><text x="723" y="769">611</text></g>
<g id="n612" class="nd"><ellipse cx="774" cy="769" rx="22" ry="10"/><text x="774" y="769">612</text></g>
<g id="n706" class="nd"><ellipse cx="723" cy="822" rx="22" ry="10"/><text x="723" y="822">706</text></g>
<g id="n811" class="nd"><ellipse cx="723" cy="885" rx="22" ry="10"/><text x="723" y="885">811</text></g>
<g id="n812" class="nd"><ellipse cx="774" cy="885" rx="22" ry="10"/><text x="774" y="885">812</text></g>
<g id="n906" class="nd"><ellipse cx="723" cy="938" rx="22" ry="10"/><text x="723" y="938">906</text></g>
<g id="n1011" class="nd"><ellipse cx="723" cy="1001" rx="22" ry="10"/><text x="723" y="1001" textLength="34" lengthAdjust="spacingAndGlyphs">1011</text></g>
<g id="n1012" class="nd"><ellipse cx="774" cy="1001" rx="22" ry="10"/><text x="774" y="1001" textLength="34" lengthAdjust="spacingAndGlyphs">1012</text></g>
<g id="n1106" class="nd"><ellipse cx="723" cy="1049" rx="22" ry="10"/><text x="723" y="1049" textLength="34" lengthAdjust="spacingAndGlyphs">1106</text></g>
<g id="n1206" class="nd"><ellipse cx="723" cy="1112" rx="22" ry="10"/><text x="723" y="1112" textLength="34" lengthAdjust="spacingAndGlyphs">1206</text></g>
<g id="n1306" class="nd"><ellipse cx="723" cy="1163" rx="22" ry="10"/><text x="723" y="1163" textLength="34" lengthAdjust="spacingAndGlyphs">1306</text></g>
<g id="n1411" class="nd"><ellipse cx="723" cy="1226" rx="22" ry="10"/><text x="723" y="1226" textLength="34" lengthAdjust="spacingAndGlyphs">1411</text></g>
<g id="n1412" class="nd"><ellipse cx="774" cy="1226" rx="22" ry="10"/><text x="774" y="1226" textLength="34" lengthAdjust="spacingAndGlyphs">1412</text></g>
<g id="n1503" class="nd"><ellipse cx="723" cy="1280" rx="22" ry="10"/><text x="723" y="1280" textLength="34" lengthAdjust="spacingAndGlyphs">1503</text></g>
<g id="n1603" class="nd"><ellipse cx="723" cy="1342" rx="22" ry="10"/><text x="723" y="1342" textLength="34" lengthAdjust="spacingAndGlyphs">1603</text></g>

<!-- column 7: finish face milling -->
<g id="n507" class="nd"><ellipse cx="840" cy="704" rx="22" ry="10"/><text x="840" y="704">507</text></g>
<g id="n613" class="nd"><ellipse cx="840" cy="770" rx="22" ry="10"/><text x="840" y="770">613</text></g>
<g id="n614" class="nd"><ellipse cx="891" cy="770" rx="22" ry="10"/><text x="891" y="770">614</text></g>
<g id="n707" class="nd"><ellipse cx="840" cy="823" rx="22" ry="10"/><text x="840" y="823">707</text></g>
<g id="n813" class="nd"><ellipse cx="840" cy="886" rx="22" ry="10"/><text x="840" y="886">813</text></g>
<g id="n814" class="nd"><ellipse cx="891" cy="886" rx="22" ry="10"/><text x="891" y="886">814</text></g>
<g id="n907" class="nd"><ellipse cx="840" cy="939" rx="22" ry="10"/><text x="840" y="939">907</text></g>
<g id="n1013" class="nd"><ellipse cx="840" cy="1002" rx="22" ry="10"/><text x="840" y="1002" textLength="34" lengthAdjust="spacingAndGlyphs">1013</text></g>
<g id="n1014" class="nd"><ellipse cx="891" cy="1002" rx="22" ry="10"/><text x="891" y="1002" textLength="34" lengthAdjust="spacingAndGlyphs">1014</text></g>
<g id="n1107" class="nd"><ellipse cx="840" cy="1050" rx="22" ry="10"/><text x="840" y="1050" textLength="34" lengthAdjust="spacingAndGlyphs">1107</text></g>
<g id="n1207" class="nd"><ellipse cx="840" cy="1113" rx="22" ry="10"/><text x="840" y="1113" textLength="34" lengthAdjust="spacingAndGlyphs">1207</text></g>
<g id="n1307" class="nd"><ellipse cx="840" cy="1164" rx="22" ry="10"/><text x="840" y="1164" textLength="34" lengthAdjust="spacingAndGlyphs">0307</text></g>
<g id="n1413" class="nd"><ellipse cx="840" cy="1227" rx="22" ry="10"/><text x="840" y="1227" textLength="34" lengthAdjust="spacingAndGlyphs">1413</text></g>
<g id="n1414" class="nd"><ellipse cx="891" cy="1227" rx="22" ry="10"/><text x="891" y="1227" textLength="34" lengthAdjust="spacingAndGlyphs">1414</text></g>
<g id="n1504" class="nd"><ellipse cx="840" cy="1281" rx="22" ry="10"/><text x="840" y="1281" textLength="34" lengthAdjust="spacingAndGlyphs">1504</text></g>
<g id="n1604" class="nd"><ellipse cx="840" cy="1343" rx="22" ry="10"/><text x="840" y="1343" textLength="34" lengthAdjust="spacingAndGlyphs">1604</text></g>

<!-- column 8: finish end milling -->
<g id="n508" class="nd"><ellipse cx="958" cy="705" rx="22" ry="10"/><text x="958" y="705">508</text></g>
<g id="n615" class="nd"><ellipse cx="958" cy="771" rx="22" ry="10"/><text x="958" y="771">615</text></g>
<g id="n616" class="nd"><ellipse cx="1009" cy="771" rx="22" ry="10"/><text x="1009" y="771">616</text></g>
<g id="n708" class="nd"><ellipse cx="958" cy="824" rx="22" ry="10"/><text x="958" y="824">708</text></g>
<g id="n815" class="nd"><ellipse cx="958" cy="887" rx="22" ry="10"/><text x="958" y="887">815</text></g>
<g id="n816" class="nd"><ellipse cx="1009" cy="887" rx="22" ry="10"/><text x="1009" y="887">816</text></g>
<g id="n908" class="nd"><ellipse cx="958" cy="940" rx="22" ry="10"/><text x="958" y="940">908</text></g>
<g id="n1015" class="nd"><ellipse cx="958" cy="1003" rx="22" ry="10"/><text x="958" y="1003" textLength="34" lengthAdjust="spacingAndGlyphs">1015</text></g>
<g id="n1016" class="nd"><ellipse cx="1009" cy="1003" rx="22" ry="10"/><text x="1009" y="1003" textLength="34" lengthAdjust="spacingAndGlyphs">1016</text></g>
<g id="n1108" class="nd"><ellipse cx="958" cy="1051" rx="22" ry="10"/><text x="958" y="1051" textLength="34" lengthAdjust="spacingAndGlyphs">1108</text></g>
<g id="n1208" class="nd"><ellipse cx="958" cy="1114" rx="22" ry="10"/><text x="958" y="1114" textLength="34" lengthAdjust="spacingAndGlyphs">1208</text></g>
<g id="n1308" class="nd"><ellipse cx="958" cy="1165" rx="22" ry="10"/><text x="958" y="1165" textLength="34" lengthAdjust="spacingAndGlyphs">1308</text></g>
<g id="n1415" class="nd"><ellipse cx="958" cy="1228" rx="22" ry="10"/><text x="958" y="1228" textLength="34" lengthAdjust="spacingAndGlyphs">1415</text></g>
<g id="n1416" class="nd"><ellipse cx="1009" cy="1228" rx="22" ry="10"/><text x="1009" y="1228" textLength="34" lengthAdjust="spacingAndGlyphs">1416</text></g>
<g id="n1505" class="nd"><ellipse cx="958" cy="1282" rx="22" ry="10"/><text x="958" y="1282" textLength="34" lengthAdjust="spacingAndGlyphs">1505</text></g>
<g id="n1605" class="nd"><ellipse cx="958" cy="1344" rx="22" ry="10"/><text x="958" y="1344" textLength="34" lengthAdjust="spacingAndGlyphs">1605</text></g>
</svg>
